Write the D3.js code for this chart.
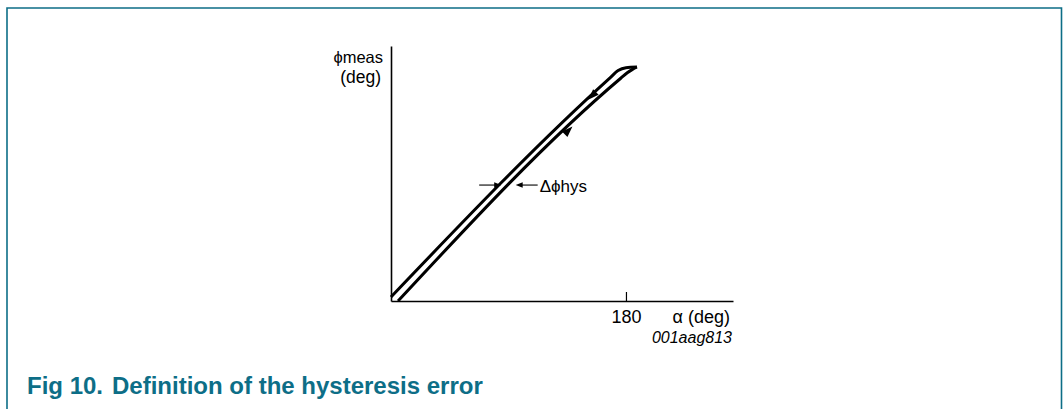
<!DOCTYPE html>
<html><head><meta charset="utf-8">
<script src="https://cdn.jsdelivr.net/npm/d3@7"></script>
<style>
html,body{margin:0;padding:0;background:#fff;}
svg{display:block;}
text{font-family:"Liberation Sans",Arial,sans-serif;}
</style></head>
<body>
<svg id="chart" width="1063" height="409"></svg>
<script>
// ---- data (degrees) ----
const xTickValues = [180];
const xTickLabels = ["180"];
const descAlpha = [0, 168, 174, 180, 188.4];      // upper branch (decreasing alpha)
const descPhi   = [3.1, 171.1, 176.5, 178.7, 179.2];
const ascAlpha  = [5.4, 176, 181, 185, 188.4];    // lower branch (increasing alpha)
const ascPhi    = [0, 170.6, 174.8, 177.4, 179.2];
const hysPhi = 88.8;          // level where hysteresis is marked
const hysOffsetUpper = 3.1;   // phi = alpha + 3.1 on upper branch
const hysOffsetLower = -5.4;  // phi = alpha - 5.4 on lower branch
const upArrowAlpha = 139;
const downArrowAlpha = 151;
const titleText = ["Fig 10.", "Definition of the hysteresis error"];
const teal = "#0d6e87";

const svg = d3.select("#chart");
const x = d3.scaleLinear().domain([0, 262]).range([391, 733]);
const y = d3.scaleLinear().domain([0, 195.3]).range([301, 46]);

// frame
svg.append("path").attr("d", "M7,409V8H1061.5V409")
  .attr("fill", "none").attr("stroke", teal).attr("stroke-width", 1.6);

// axes
const xAxis = d3.axisBottom(x).tickValues(xTickValues).tickFormat((d,i)=>xTickLabels[i])
  .tickSizeInner(-9).tickSizeOuter(0).tickPadding(9);
const gx = svg.append("g").attr("transform", `translate(0,${y(0)})`).call(xAxis);
gx.select(".domain").attr("stroke", "#000").attr("stroke-width", 1.6);
gx.selectAll(".tick line").attr("stroke", "#000").attr("stroke-width", 1.2);
gx.selectAll(".tick text").attr("font-size", 18).attr("fill", "#000")
  .attr("font-family", '"Liberation Sans",Arial,sans-serif');

const yAxis = d3.axisLeft(y).tickValues([]).tickSizeOuter(0);
const gy = svg.append("g").attr("transform", `translate(${x(0)},0)`).call(yAxis);
gy.select(".domain").attr("stroke", "#000").attr("stroke-width", 1.6);

// curves
const line = d3.line().x(d=>x(d[0])).y(d=>y(d[1])).curve(d3.curveMonotoneX);
const descPts = descAlpha.map((a,i)=>[a, descPhi[i]]);
const ascPts = ascAlpha.map((a,i)=>[a, ascPhi[i]]);
[descPts, ascPts].forEach(p => svg.append("path").attr("d", line(p))
  .attr("fill", "none").attr("stroke", "#000").attr("stroke-width", 3).attr("stroke-linejoin","round"));

// direction arrowheads on curves
function arrowHead(px, py, angleDeg, len, half) {
  return svg.append("path")
    .attr("d", `M0,0L${-len},${-half}L${-len},${half}Z`)
    .attr("fill", "#000")
    .attr("transform", `translate(${px},${py}) rotate(${angleDeg})`);
}
const slopeAngle = Math.atan2(y(1)-y(0), x(1)-x(0)) * 180 / Math.PI; // up-right direction
arrowHead(x(upArrowAlpha), y(upArrowAlpha + hysOffsetLower), slopeAngle, 11, 3.9);
arrowHead(x(downArrowAlpha), y(downArrowAlpha + hysOffsetUpper), slopeAngle + 180, 11, 3.9);

// hysteresis marker
const hy = y(hysPhi);
const xu = x(hysPhi - hysOffsetUpper) - 1.7;
const xl = x(hysPhi - hysOffsetLower) + 1.7;
svg.append("line").attr("x1", xu - 22).attr("x2", xu - 6).attr("y1", hy).attr("y2", hy)
  .attr("stroke", "#000").attr("stroke-width", 1.1);
arrowHead(xu, hy, 0, 7, 2.8);
svg.append("line").attr("x1", xl + 6).attr("x2", xl + 22).attr("y1", hy).attr("y2", hy)
  .attr("stroke", "#000").attr("stroke-width", 1.1);
arrowHead(xl, hy, 180, 7, 2.8);
svg.append("text").attr("x", xl + 24).attr("y", hy + 6.5).attr("font-size", 17)
  .text("Δϕhys");

// axis labels
svg.append("text").attr("x", 383).attr("y", 63).attr("text-anchor", "end").attr("font-size", 16.5).text("ϕmeas");
svg.append("text").attr("x", 381).attr("y", 83).attr("text-anchor", "end").attr("font-size", 17.5).text("(deg)");
svg.append("text").attr("x", 730).attr("y", 323).attr("text-anchor", "end").attr("font-size", 18).text("α (deg)");
svg.append("text").attr("x", 732).attr("y", 343).attr("text-anchor", "end").attr("font-size", 16)
  .attr("font-style", "italic").text("001aag813");

// title
const t = svg.append("text").attr("x", 27).attr("y", 394).attr("font-size", 24)
  .attr("font-weight", "bold").attr("fill", teal);
t.append("tspan").text(titleText[0]);
t.append("tspan").attr("dx", 9).text(titleText[1]);
</script>
</body></html>
